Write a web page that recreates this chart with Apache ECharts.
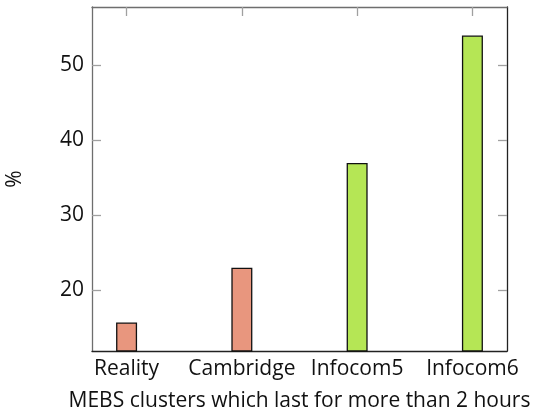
<!DOCTYPE html>
<html>
<head>
<meta charset="utf-8">
<script src="https://cdn.jsdelivr.net/npm/echarts@6/dist/echarts.min.js"></script>
<style>
  html, body { margin: 0; padding: 0; background: #fff; }
  #chart { width: 535px; height: 409px; }
</style>
</head>
<body>
<div id="chart"></div>
<script>
// MEBS clusters lasting longer than two hours, per dataset (%)
const categories = ['Reality', 'Cambridge', 'Infocom5', 'Infocom6'];
const values = [15.7, 23, 37, 54];
const barColors = ['#E8967E', '#E8967E', '#B5E655', '#B5E655'];
const yTicks = [20, 30, 40, 50];
const xTitle = 'MEBS clusters which last for more than 2 hours';
const yTitle = '%';

const FONT = 'Open Sans';
const FONT_SIZE = 21;
const positions = categories.map((_, i) => i);

const chart = echarts.init(document.getElementById('chart'), null, { renderer: 'canvas' });

const frameLine = { show: true, onZero: false, lineStyle: { color: '#6e6e6e', width: 1.3 } };
const darkLine = { show: true, onZero: false, lineStyle: { color: '#222', width: 1.3 } };
const tickStyle = { show: true, inside: true, length: 9, lineStyle: { color: '#a0a0a0', width: 1.3 } };

chart.setOption({
  animation: false,
  backgroundColor: '#fff',
  grid: { left: 92, right: 28, top: 7, bottom: 58, containLabel: false, outerBoundsMode: 'none' },
  xAxis: [
    {
      type: 'value',
      position: 'bottom',
      min: -0.3,
      max: 3.3,
      axisLine: darkLine,
      axisTick: { show: false },
      splitLine: { show: false },
      axisLabel: {
        customValues: positions,
        formatter: v => categories[Math.round(v)],
        color: '#111', fontFamily: FONT, fontSize: FONT_SIZE, margin: 8
      },
      name: xTitle,
      nameLocation: 'middle',
      nameGap: 40,
      nameTextStyle: { color: '#111', fontFamily: FONT, fontSize: FONT_SIZE }
    },
    {
      type: 'value',
      position: 'top',
      min: -0.3,
      max: 3.3,
      axisLine: frameLine,
      axisTick: Object.assign({ customValues: positions }, tickStyle),
      axisLabel: { show: false },
      splitLine: { show: false }
    }
  ],
  yAxis: [
    {
      type: 'value',
      position: 'left',
      min: 11.9,
      max: 57.8,
      axisLine: frameLine,
      axisTick: Object.assign({ customValues: yTicks }, tickStyle),
      axisLabel: {
        customValues: yTicks,
        color: '#111', fontFamily: FONT, fontSize: FONT_SIZE, margin: 8
      },
      splitLine: { show: false },
      name: yTitle,
      nameLocation: 'middle',
      nameGap: 66,
      nameRotate: 90,
      nameTextStyle: { color: '#111', fontFamily: FONT, fontSize: FONT_SIZE }
    },
    {
      type: 'value',
      position: 'right',
      min: 11.9,
      max: 57.8,
      axisLine: darkLine,
      axisTick: Object.assign({ customValues: yTicks }, tickStyle),
      axisLabel: { show: false },
      splitLine: { show: false }
    }
  ],
  series: [{
    type: 'bar',
    xAxisIndex: 0,
    yAxisIndex: 0,
    barWidth: 21,
    data: values.map((v, i) => ({
      value: [positions[i], v],
      itemStyle: { color: barColors[i], borderColor: '#111', borderWidth: 1.3 }
    }))
  }]
});
</script>
</body>
</html>
